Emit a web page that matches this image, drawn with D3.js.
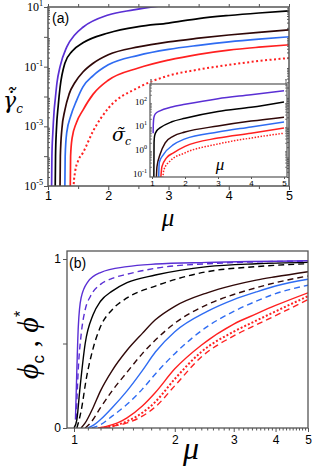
<!DOCTYPE html>
<html>
<head>
<meta charset="utf-8">
<script src="https://cdn.jsdelivr.net/npm/d3@7"></script>
<style>
body { margin: 0; background: #fff; }
svg { display: block; }
</style>
</head>
<body>
<svg id="chart"></svg>
<script>
// ------------------ data: panel (a) gamma_c vs mu  ---------------------

let gammaPurple = [[1.055,1e-6],[1.065,1e-4],[1.08,6e-4],[1.1,3e-3],[1.12,8e-3],[1.15,0.03],[1.2,0.1],[1.31,0.45],[1.45,1.2],[1.58,2.1],[2,5.4],[2.42,8],[2.95,11.5]];
let gammaBlack = [[1.115,1e-6],[1.125,1e-4],[1.14,8e-4],[1.17,5e-3],[1.2,0.02],[1.28,0.13],[1.4,0.33],[1.58,0.63],[2,1.35],[2.5,2.2],[3,2.9],[3.5,4.1],[4,5.2],[4.5,6.3],[5,7.4]];
let gammaBrown = [[1.195,1e-6],[1.205,1e-4],[1.23,8e-4],[1.28,3.5e-3],[1.35,0.012],[1.45,0.03],[1.58,0.066],[1.75,0.13],[2,0.25],[2.5,0.46],[3,0.68],[3.5,0.9],[4,1.15],[4.5,1.42],[5,1.7]];
let gammaBlue = [[1.275,1e-6],[1.285,1e-4],[1.31,6e-4],[1.38,2.3e-3],[1.47,7e-3],[1.58,0.021],[1.75,0.05],[2,0.115],[2.5,0.24],[3,0.38],[3.5,0.52],[4,0.68],[4.5,0.84],[5,1.0]];
let gammaRed = [[1.365,1e-6],[1.375,1e-4],[1.4,4e-4],[1.47,1.3e-3],[1.58,3.5e-3],[1.75,0.012],[2,0.035],[2.5,0.09],[3,0.166],[3.5,0.26],[4,0.36],[4.5,0.45],[5,0.54]];
let gammaRedDot = [[1.415,1e-6],[1.425,1e-5],[1.45,3e-5],[1.5,7e-5],[1.58,1.3e-4],[1.75,7e-4],[2,4e-3],[2.5,0.02],[3,0.05],[3.5,0.08],[4,0.115],[4.5,0.155],[5,0.195]];

// ------------------ data: inset sigma_c vs mu  ---------------------

let sigmaPurple = [[1.035,5],[1.04,12],[1.055,22],[1.1,32],[1.24,43],[1.6,62],[2,80],[3,138],[4,200],[5,295]];
let sigmaBlack = [[1.055,0.05],[1.062,2],[1.08,4],[1.15,6.5],[1.24,8.3],[1.6,15],[2,21],[3,40],[4,60],[5,100]];
let sigmaBrown = [[1.13,0.05],[1.15,0.2],[1.24,0.63],[1.4,2],[1.65,3.8],[2,5.6],[3,10],[4,16],[5,23.4]];
let sigmaBlue = [[1.2,0.05],[1.22,0.3],[1.34,0.63],[1.65,1.66],[2,2.9],[3,5.6],[4,9.1],[5,14.8]];
let sigmaRed = [[1.26,0.05],[1.3,0.2],[1.44,0.47],[1.65,0.76],[2,1.41],[3,3.16],[4,5],[5,8.3]];
let sigmaRedDot = [[1.32,0.05],[1.36,0.15],[1.55,0.35],[2,0.76],[3,1.78],[4,3.16],[5,5]];

// ------------------ data: panel (b) phi_c, phi* vs mu  ---------------------

let phiPurple = [[1.01,0.05],[1.02,0.35],[1.03,0.6],[1.05,0.77],[1.1,0.865],[1.2,0.92],[1.44,0.955],[1.75,0.97],[2.5,0.98],[5,0.99]];
let phiPurpleDash = [[1.015,0.05],[1.03,0.35],[1.05,0.55],[1.08,0.7],[1.12,0.78],[1.2,0.85],[1.3,0.885],[1.44,0.91],[1.75,0.945],[2.5,0.972],[5,0.988]];
let phiBlack = [[1.0,0],[1.02,0.05],[1.04,0.22],[1.08,0.5],[1.14,0.67],[1.2,0.75],[1.3,0.81],[1.44,0.86],[1.75,0.905],[2.5,0.955],[3.5,0.972],[5,0.98]];
let phiBlackDash = [[1.02,0],[1.05,0.1],[1.09,0.3],[1.14,0.47],[1.2,0.6],[1.3,0.7],[1.44,0.77],[1.75,0.84],[2.5,0.925],[3.5,0.955],[5,0.972]];
let phiBrown = [[1.05,0],[1.08,0.03],[1.14,0.12],[1.2,0.22],[1.3,0.34],[1.44,0.46],[1.6,0.56],[1.75,0.64],[2,0.72],[2.5,0.8],[3,0.845],[3.5,0.875],[4,0.895],[5,0.925]];
let phiBrownDash = [[1.08,0],[1.12,0.03],[1.2,0.12],[1.3,0.22],[1.44,0.33],[1.6,0.44],[1.75,0.52],[2,0.62],[2.5,0.73],[3,0.79],[3.5,0.83],[4,0.86],[5,0.9]];
let phiBlue = [[1.1,0],[1.15,0.02],[1.2,0.05],[1.3,0.12],[1.44,0.22],[1.6,0.34],[1.75,0.45],[2,0.57],[2.5,0.69],[3,0.76],[3.5,0.805],[4,0.84],[5,0.88]];
let phiBlueDash = [[1.13,0],[1.2,0.02],[1.3,0.07],[1.44,0.14],[1.6,0.23],[1.75,0.32],[2,0.44],[2.5,0.6],[3,0.69],[3.5,0.75],[4,0.795],[5,0.845]];
let phiRed = [[1.18,0],[1.25,0.01],[1.35,0.03],[1.44,0.06],[1.6,0.13],[1.75,0.21],[2,0.35],[2.4,0.49],[3,0.615],[3.5,0.675],[4,0.725],[5,0.8]];
let phiRedDot = [[1.2,0],[1.3,0.01],[1.44,0.04],[1.6,0.09],[1.75,0.155],[2,0.29],[2.4,0.45],[3,0.57],[3.5,0.635],[4,0.69],[5,0.78]];
let phiRedDash = [[1.22,0],[1.3,0.01],[1.44,0.03],[1.6,0.07],[1.75,0.125],[2,0.25],[2.4,0.42],[3,0.545],[3.5,0.61],[4,0.665],[5,0.76]];

// ------------------ tick values  ---------------------

let xTicksA = [1,2,3,4,5];
let yTicksA = [1e1,1e-1,1e-3,1e-5];
let xTicksInset = [1,2,3,4,5];
let yTicksInset = [1e2,1e1,1e0,1e-1];
let xTicksB = [1,2,3,4,5];
let yTicksB = [0,1];

// ------------------ setup  ---------------------

let svgWidth = 313;
let svgHeight = 468;
let purple = '#5a2fd4', brown = '#300808', blue = '#2f6cf2', red = '#ff2020';
let frameColor = '#555';
let serif = '"Liberation Serif", "DejaVu Serif", serif';
let sans = '"Liberation Sans", Arial, sans-serif';

let svg = d3.select('#chart')
    .attr('width', svgWidth)
    .attr('height', svgHeight)
    .style('background', '#fff');

let defs = svg.append('defs');

// frames (pixel boxes)
let boxA = {l: 48, r: 289, t: 7, b: 186};
let boxIn = {l: 150, r: 287, t: 84, b: 177};
let boxB = {l: 67, r: 308, t: 251, b: 428};

let xA = d3.scaleLinear().domain([1,5]).range([48,289]);
let yA = d3.scaleLog().domain([1e-5,1e1]).range([186,7]);
let xIn = d3.scaleLinear().domain([1,5]).range([152,284]);
let yIn = d3.scaleLog().domain([1e-1,1e2]).range([174,102]);
let xB = d3.scaleLog().domain([1,5]).range([74,308]);
let yB = d3.scaleLinear().domain([0,1]).range([428,259]);

function clip(id, box) {
    defs.append('clipPath').attr('id', id)
        .append('rect')
        .attr('x', box.l).attr('y', box.t)
        .attr('width', box.r - box.l).attr('height', box.b - box.t);
}
clip('clipA', boxA);
clip('clipIn', boxIn);
clip('clipB', boxB);

function drawLines(g, series, x, y, width) {
    let line = d3.line()
        .x(d => x(d[0]))
        .y(d => y(d[1]))
        .curve(d3.curveMonotoneX);
    g.selectAll('path.curve')
        .data(series)
        .enter()
        .append('path')
        .attr('class', 'curve')
        .attr('d', s => line(s.data))
        .attr('fill', 'none')
        .attr('stroke', s => s.color)
        .attr('stroke-width', s => s.width || width)
        .attr('stroke-dasharray', s => s.dash || null);
}

function frame(box, w) {
    svg.append('rect')
        .attr('x', box.l).attr('y', box.t)
        .attr('width', box.r - box.l).attr('height', box.b - box.t)
        .attr('fill', 'none')
        .attr('stroke', frameColor)
        .attr('stroke-width', w);
}

// superscript label like 10^-3
function powLabel(sel, size) {
    sel.each(function(d) {
        let t = d3.select(this);
        t.append('tspan').text('10');
        t.append('tspan')
            .attr('dy', -size * 0.42)
            .attr('font-size', size * 0.68)
            .text(Math.round(Math.log10(d)));
    });
}

function logMinor(lo, hi) {
    let out = [];
    for (let e = lo; e < hi; e++) {
        for (let k = 2; k < 10; k++) out.push(k * Math.pow(10, e));
    }
    return out;
}

// ------------------ panel (a)  ---------------------

let seriesA = [
    {data: gammaPurple, color: purple},
    {data: gammaBlack, color: '#000'},
    {data: gammaBrown, color: brown},
    {data: gammaBlue, color: blue},
    {data: gammaRed, color: red},
    {data: gammaRedDot, color: red, dash: '2,2.5', width: 2}
];

drawLines(svg.append('g').attr('clip-path', 'url(#clipA)'), seriesA, xA, yA, 1.7);

// x axis bottom / top
let xAxisA = svg.append('g')
    .attr('transform', 'translate(0,' + boxA.b + ')')
    .call(d3.axisBottom(xA).tickValues(xTicksA).tickSize(4).tickPadding(1).tickFormat(d3.format('d')));
xAxisA.select('.domain').remove();
xAxisA.selectAll('text').attr('font-family', sans).attr('font-size', 12.5).attr('fill', '#000');
xAxisA.selectAll('line').attr('stroke', frameColor);

svg.append('g')
    .attr('transform', 'translate(0,' + boxA.b + ')')
    .call(d3.axisBottom(xA).tickValues([1.5,2.5,3.5,4.5]).tickSize(3).tickFormat(''))
    .call(g => g.select('.domain').remove())
    .selectAll('line').attr('stroke', frameColor);

svg.append('g')
    .attr('transform', 'translate(0,' + boxA.t + ')')
    .call(d3.axisTop(xA).tickValues([1,1.5,2,2.5,3,3.5,4,4.5,5]).tickSize(3).tickFormat(''))
    .call(g => g.select('.domain').remove())
    .selectAll('line').attr('stroke', frameColor);

// y axis (log)
svg.append('g')
    .attr('transform', 'translate(' + boxA.l + ',0)')
    .call(d3.axisLeft(yA).tickValues([1e1,1,1e-1,1e-2,1e-3,1e-4,1e-5]).tickSize(4).tickFormat(''))
    .call(g => g.select('.domain').remove())
    .selectAll('line').attr('stroke', frameColor);

svg.append('g')
    .attr('transform', 'translate(' + boxA.l + ',0)')
    .call(d3.axisRight(yA).tickValues(logMinor(-5, 1)).tickSize(2).tickFormat(''))
    .call(g => g.select('.domain').remove())
    .selectAll('line').attr('stroke', frameColor);

svg.append('g')
    .attr('transform', 'translate(' + boxA.r + ',0)')
    .call(d3.axisLeft(yA).tickValues(logMinor(-5, 1)).tickSize(2).tickFormat(''))
    .call(g => g.select('.domain').remove())
    .selectAll('line').attr('stroke', frameColor);

svg.append('g')
    .selectAll('text')
    .data(yTicksA)
    .enter()
    .append('text')
    .attr('x', 43)
    .attr('y', d => yA(d) + 4)
    .attr('text-anchor', 'end')
    .attr('font-family', serif)
    .attr('font-size', 12)
    .call(powLabel, 12);

frame(boxA, 1.5);

svg.append('text')
    .attr('x', 52).attr('y', 23)
    .attr('font-family', sans).attr('font-size', 14)
    .text('(a)');

// y label: gamma dot tilde, sub c
let gLab = svg.append('text')
    .attr('x', 3).attr('y', 108)
    .attr('font-family', '"DejaVu Serif", serif')
    .attr('font-style', 'italic')
    .attr('font-size', 22);
gLab.append('tspan').text('\u03B3\u0307\u0303');
gLab.append('tspan').attr('dy', 5).attr('font-size', 12).text('c');

svg.append('text')
    .attr('x', 168).attr('y', 226)
    .attr('text-anchor', 'middle')
    .attr('font-family', serif).attr('font-style', 'italic')
    .attr('font-size', 25)
    .text('\u03BC');

// ------------------ inset  ---------------------

svg.append('rect')
    .attr('x', boxIn.l).attr('y', boxIn.t)
    .attr('width', boxIn.r - boxIn.l).attr('height', boxIn.b - boxIn.t)
    .attr('fill', '#fff');

let seriesIn = [
    {data: sigmaPurple, color: purple},
    {data: sigmaBlack, color: '#000'},
    {data: sigmaBrown, color: brown},
    {data: sigmaBlue, color: blue},
    {data: sigmaRed, color: red},
    {data: sigmaRedDot, color: red, dash: '1.5,1.5', width: 1.5}
];

drawLines(svg.append('g').attr('clip-path', 'url(#clipIn)'), seriesIn, xIn, yIn, 1.5);

let xAxisIn = svg.append('g')
    .attr('transform', 'translate(0,' + boxIn.b + ')')
    .call(d3.axisBottom(xIn).tickValues(xTicksInset).tickSize(2).tickPadding(1).tickFormat(d3.format('d')));
xAxisIn.select('.domain').remove();
xAxisIn.selectAll('text').attr('font-family', sans).attr('font-size', 8).attr('fill', '#000');
xAxisIn.selectAll('line').attr('stroke', frameColor);

svg.append('g')
    .attr('transform', 'translate(' + boxIn.l + ',0)')
    .call(d3.axisRight(yIn).tickValues(logMinor(-1, 3)).tickSize(2).tickFormat(''))
    .call(g => g.select('.domain').remove())
    .selectAll('line').attr('stroke', '#888');

svg.append('g')
    .attr('transform', 'translate(' + boxIn.r + ',0)')
    .call(d3.axisLeft(yIn).tickValues(logMinor(-1, 3)).tickSize(2).tickFormat(''))
    .call(g => g.select('.domain').remove())
    .selectAll('line').attr('stroke', '#888');

svg.append('g')
    .selectAll('text')
    .data(yTicksInset)
    .enter()
    .append('text')
    .attr('x', 147)
    .attr('y', d => yIn(d) + 3)
    .attr('text-anchor', 'end')
    .attr('font-family', serif)
    .attr('font-size', 9)
    .call(powLabel, 9);

frame(boxIn, 1.2);

let sLab = svg.append('text')
    .attr('x', 112).attr('y', 141)
    .attr('font-family', '"DejaVu Serif", serif')
    .attr('font-style', 'italic')
    .attr('font-size', 19);
sLab.append('tspan').text('\u03C3\u0303');
sLab.append('tspan').attr('dy', 4).attr('font-size', 11).text('c');

svg.append('text')
    .attr('x', 220).attr('y', 170)
    .attr('text-anchor', 'middle')
    .attr('font-family', serif).attr('font-style', 'italic')
    .attr('font-size', 17)
    .text('\u03BC');

// ------------------ panel (b)  ---------------------

let seriesB = [
    {data: phiPurple, color: purple},
    {data: phiPurpleDash, color: purple, dash: '6,4'},
    {data: phiBlack, color: '#000'},
    {data: phiBlackDash, color: '#000', dash: '6,4'},
    {data: phiBrown, color: brown},
    {data: phiBrownDash, color: brown, dash: '6,4'},
    {data: phiBlue, color: blue},
    {data: phiBlueDash, color: blue, dash: '6,4'},
    {data: phiRed, color: red},
    {data: phiRedDot, color: red, dash: '2,2', width: 2},
    {data: phiRedDash, color: red, dash: '6,4'}
];

drawLines(svg.append('g').attr('clip-path', 'url(#clipB)'), seriesB, xB, yB, 1.4);

let xAxisB = svg.append('g')
    .attr('transform', 'translate(0,' + boxB.b + ')')
    .call(d3.axisBottom(xB).tickValues(xTicksB).tickSize(4).tickPadding(3).tickFormat(d3.format('d')));
xAxisB.select('.domain').remove();
xAxisB.selectAll('text').attr('font-family', sans).attr('font-size', 12).attr('fill', '#000');
xAxisB.selectAll('line').attr('stroke', frameColor);

let minorB = d3.range(11, 50).map(d => d / 10).filter(d => d % 1 !== 0);
svg.append('g')
    .attr('transform', 'translate(0,' + boxB.b + ')')
    .call(d3.axisBottom(xB).tickValues(minorB).tickSize(2.5).tickFormat(''))
    .call(g => g.select('.domain').remove())
    .selectAll('line').attr('stroke', frameColor);

let yAxisB = svg.append('g')
    .attr('transform', 'translate(' + boxB.l + ',0)')
    .call(d3.axisLeft(yB).tickValues([0,0.5,1]).tickSize(4).tickPadding(2)
        .tickFormat(d => yTicksB.includes(d) ? d : ''));
yAxisB.select('.domain').remove();
yAxisB.selectAll('text').attr('font-family', sans).attr('font-size', 12).attr('fill', '#000');
yAxisB.selectAll('line').attr('stroke', frameColor);

frame(boxB, 1.3);

svg.append('text')
    .attr('x', 69).attr('y', 268)
    .attr('font-family', sans).attr('font-size', 14)
    .text('(b)');

let pLab = svg.append('text')
    .attr('transform', 'translate(38,345) rotate(-90)')
    .attr('text-anchor', 'middle')
    .attr('font-family', serif)
    .attr('font-size', 30);
pLab.append('tspan').attr('font-style', 'italic').text('\u03D5');
pLab.append('tspan').attr('dy', 6).attr('font-size', 17).attr('font-family', sans).text('c');
pLab.append('tspan').attr('dy', -6).text(' , ');
pLab.append('tspan').attr('font-style', 'italic').text('\u03D5');
pLab.append('tspan').attr('dy', -12).attr('font-size', 16).attr('font-family', sans).text('*');

svg.append('text')
    .attr('x', 191).attr('y', 459)
    .attr('text-anchor', 'middle')
    .attr('font-family', serif).attr('font-style', 'italic')
    .attr('font-size', 32)
    .text('\u03BC');
</script>
</body>
</html>
